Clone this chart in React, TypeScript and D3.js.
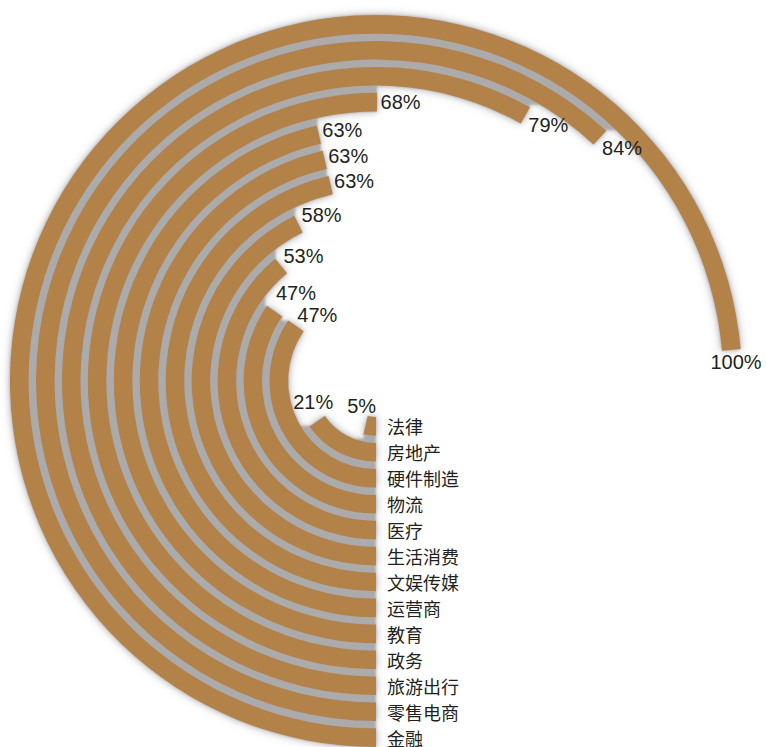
import React from "react";
import * as d3 from "d3";

const categories = ["法律", "房地产", "硬件制造", "物流", "医疗", "生活消费", "文娱传媒", "运营商", "教育", "政务", "旅游出行", "零售电商", "金融"];
const values = [5, 21, 47, 47, 53, 58, 63, 63, 63, 68, 79, 84, 100];
const valueLabels = ["5%", "21%", "47%", "47%", "53%", "58%", "63%", "63%", "63%", "68%", "79%", "84%", "100%"];

const W = 766;
const H = 747;
const CX = 376;
const CY = 381;
const R0 = 36;
const R1 = 366;
const MAX_ANGLE = (265 / 180) * Math.PI;
const BAR = "#B3824A";
const TEXT = "#231F20";

export default function App() {
  const rScale = d3.scaleBand<string>().domain(categories).range([R0, R1]).paddingInner(0.28).paddingOuter(0);
  const aScale = d3.scaleLinear().domain([0, 100]).range([0, MAX_ANGLE]);
  const arc = d3.arc<any>();

  const fs = 20;
  const boxH = 22;

  // compute label positions, inner to outer, with a simple vertical collision push
  const placed: { x: number; y: number; w: number; label: string; key: string }[] = [];
  categories.forEach((c, i) => {
    const rm = rScale(c)! + rScale.bandwidth() / 2;
    const th = aScale(values[i]);
    const px = -rm * Math.sin(th);
    const py = rm * Math.cos(th);
    const tx = -Math.cos(th);
    const ty = -Math.sin(th);
    const label = valueLabels[i];
    const w = label.length * 0.62 * fs;
    const h = 0.72 * fs;
    let x: number, y: number;
    if (th < Math.PI / 2) {
      x = px - 4;
      y = py - 19;
    } else {
      const gap = 5;
      const fx = Math.min(1, Math.abs(tx) * 2) * Math.sign(tx);
      const fy = Math.min(1, Math.abs(ty) * 2) * Math.sign(ty);
      x = px + tx * gap + (fx * w) / 2;
      y = py + ty * gap + (fy * h) / 2;
    }
    const prev = placed[placed.length - 1];
    if (prev) {
      const overlapX = Math.abs(prev.x - x) < (prev.w + w) / 2;
      const dy = prev.y - y;
      if (overlapX && dy >= 0 && dy < boxH) {
        y = prev.y - boxH;
      }
    }
    placed.push({ x, y, w, label, key: c });
  });

  return (
    <svg width={W} height={H} style={{ position: "fixed", left: 0, top: 0, background: "#fff" }}>
      <defs>
        <filter id="sh" x="-10%" y="-10%" width="120%" height="120%">
          <feGaussianBlur in="SourceAlpha" stdDeviation="4" result="soft" />
          <feFlood floodColor="#8c8c8c" floodOpacity="0.75" result="hf" />
          <feComposite in="hf" in2="soft" operator="in" result="halo" />
          <feMorphology in="SourceAlpha" operator="dilate" radius="4.5" result="dil" />
          <feMorphology in="dil" operator="erode" radius="4.5" result="closed" />
          <feGaussianBlur in="closed" stdDeviation="0.8" result="cb" />
          <feFlood floodColor="#ababab" result="gf" />
          <feComposite in="gf" in2="cb" operator="in" result="gap" />
          <feMerge>
            <feMergeNode in="halo" />
            <feMergeNode in="gap" />
            <feMergeNode in="SourceGraphic" />
          </feMerge>
        </filter>
      </defs>
      <g transform={`translate(${CX},${CY})`}>
        <g filter="url(#sh)">
          {categories.map((c, i) => {
            const r = rScale(c)!;
            const d = arc({
              innerRadius: r,
              outerRadius: r + rScale.bandwidth(),
              startAngle: Math.PI,
              endAngle: Math.PI + aScale(values[i]),
            }) as string;
            return <path key={c} d={d} fill={BAR} />;
          })}
        </g>
        {categories.map((c) => {
          const rm = rScale(c)! + rScale.bandwidth() / 2;
          return (
            <text
              key={"c" + c}
              x={11}
              y={rm}
              dominantBaseline="central"
              fontFamily="'Noto Sans CJK SC', 'Noto Sans', sans-serif"
              fontSize={18}
              fill={TEXT}
            >
              {c}
            </text>
          );
        })}
        {placed.map((p) => (
          <text
            key={"v" + p.key}
            x={p.x}
            y={p.y}
            textAnchor="middle"
            dominantBaseline="central"
            fontFamily="'Liberation Sans', Arial, sans-serif"
            fontSize={fs}
            fill={TEXT}
          >
            {p.label}
          </text>
        ))}
      </g>
    </svg>
  );
}
